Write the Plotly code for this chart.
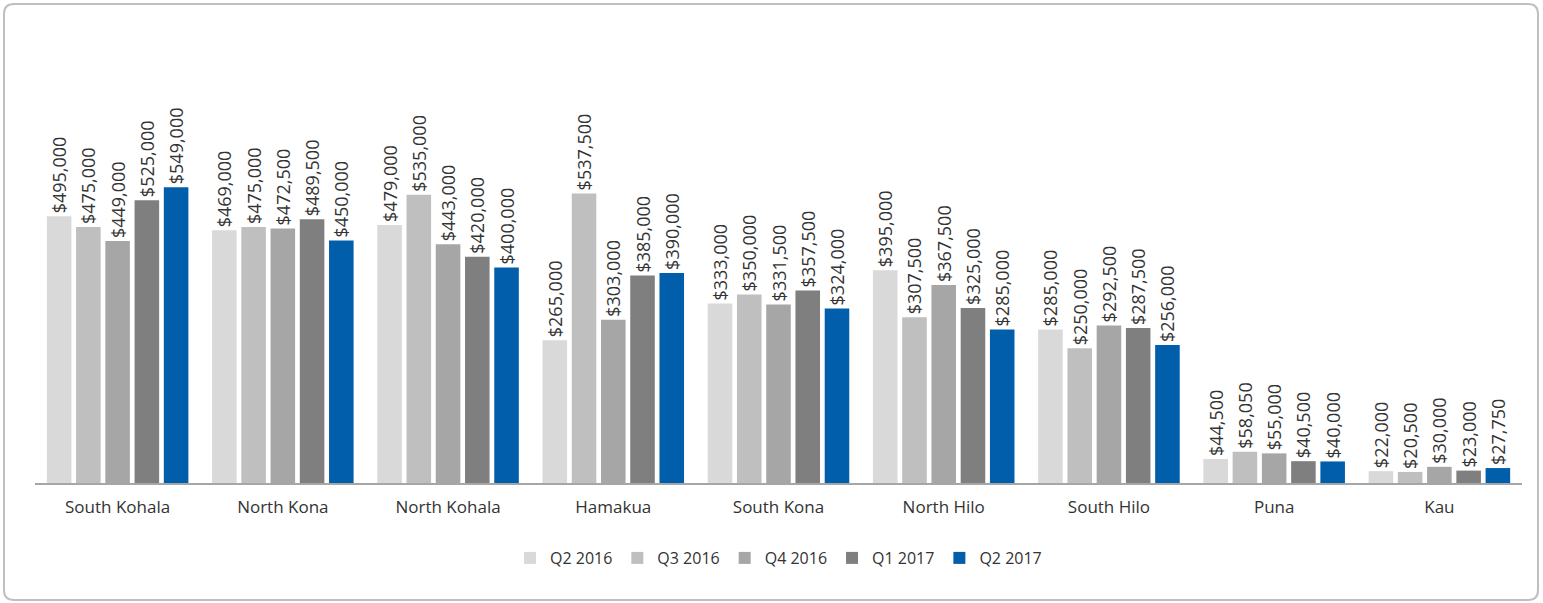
import plotly.graph_objects as go

categories = ["South Kohala", "North Kona", "North Kohala", "Hamakua", "South Kona",
              "North Hilo", "South Hilo", "Puna", "Kau"]
series_names = ["Q2 2016", "Q3 2016", "Q4 2016", "Q1 2017", "Q2 2017"]
q2_2016 = [495000, 469000, 479000, 265000, 333000, 395000, 285000, 44500, 22000]
q3_2016 = [475000, 475000, 535000, 537500, 350000, 307500, 250000, 58050, 20500]
q4_2016 = [449000, 472500, 443000, 303000, 331500, 367500, 292500, 55000, 30000]
q1_2017 = [525000, 489500, 420000, 385000, 357500, 325000, 287500, 40500, 23000]
q2_2017 = [549000, 450000, 400000, 390000, 324000, 285000, 256000, 40000, 27750]
series_values = [q2_2016, q3_2016, q4_2016, q1_2017, q2_2017]
colors = ["#D9D9D9", "#BFBFBF", "#A6A6A6", "#7F7F7F", "#005EAB"]

W, H = 1543, 603
L, R, T, B = 35, 1522, 52, 483
FONT = "Open Sans"

fig = go.Figure()
for name, vals, col in zip(series_names, series_values, colors):
    fig.add_trace(go.Bar(
        name=name, x=categories, y=vals, marker_color=col,
        marker_line_width=0,
        text=[f"${v:,}" for v in vals], textposition="outside",
        textangle=-90, textfont=dict(size=18, color="#333333", family=FONT),
        cliponaxis=False, constraintext="none",
    ))

def px_x(x):
    return (x - L) / (R - L)

def px_y(y):
    return (B - y) / (B - T)

# rounded border
x0, x1, y0, y1, r = 4, 1538, 4, 600, 10
pts = [
    f"M {px_x(x0 + r)},{px_y(y0)}",
    f"L {px_x(x1 - r)},{px_y(y0)}",
    f"Q {px_x(x1)},{px_y(y0)} {px_x(x1)},{px_y(y0 + r)}",
    f"L {px_x(x1)},{px_y(y1 - r)}",
    f"Q {px_x(x1)},{px_y(y1)} {px_x(x1 - r)},{px_y(y1)}",
    f"L {px_x(x0 + r)},{px_y(y1)}",
    f"Q {px_x(x0)},{px_y(y1)} {px_x(x0)},{px_y(y1 - r)}",
    f"L {px_x(x0)},{px_y(y0 + r)}",
    f"Q {px_x(x0)},{px_y(y0)} {px_x(x0 + r)},{px_y(y0)} Z",
]
fig.add_shape(type="path", xref="paper", yref="paper", path=" ".join(pts),
              line=dict(color="#BFBFBF", width=2), fillcolor="rgba(0,0,0,0)", layer="below")

fig.update_layout(
    width=W, height=H,
    margin=dict(l=L, r=W - R, t=T, b=H - B, pad=0),
    paper_bgcolor="white", plot_bgcolor="white",
    barmode="group", bargap=0.115, bargroupgap=0.16,
    font=dict(family=FONT, color="#333333", size=17),
    showlegend=True,
    legend=dict(orientation="h", x=0.5, xanchor="center", y=px_y(558), yanchor="middle",
                font=dict(size=16, color="#333333", family=FONT), itemwidth=30,
                traceorder="normal"),
    xaxis=dict(showgrid=False, showline=True, linecolor="#A6A6A6", linewidth=1.5,
               ticks="outside", ticklen=8, tickcolor="rgba(0,0,0,0)",
               tickfont=dict(size=17, color="#333333", family=FONT)),
    yaxis=dict(range=[0, 800000], visible=False, showgrid=False, zeroline=False),
)

fig.write_html("out.html", config={"displayModeBar": False},
               post_script="document.body.style.margin='0';document.body.style.overflow='hidden';")
